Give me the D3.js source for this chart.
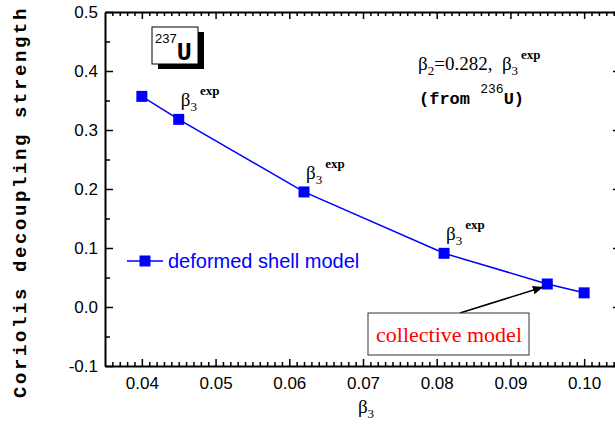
<!DOCTYPE html>
<html>
<head>
<meta charset="utf-8">
<script src="https://cdn.jsdelivr.net/npm/d3@7"></script>
<style>
  body { margin: 0; background: #fff; }
  svg { display: block; }
  text { white-space: pre; }
</style>
</head>
<body>
<div id="canvas"></div>
<script>
"use strict"

/* data */
let beta3 = [0.040, 0.045, 0.062, 0.081, 0.095, 0.100];
let strength = [0.357, 0.318, 0.195, 0.091, 0.039, 0.024];
let xTicks = [0.04, 0.05, 0.06, 0.07, 0.08, 0.09, 0.10];
let yTicks = [-0.1, 0.0, 0.1, 0.2, 0.3, 0.4, 0.5];
let expLabelIdx = [1, 2, 3];   /* points that carry a beta3^exp label */
let arrowIdx = 4;              /* point the "collective model" arrow goes to */

let svgWidth = 615;
let svgHeight = 430;
let plotLeft = 105, plotRight = 621, plotTop = 12, plotBottom = 366;

let svg = d3.select("#canvas")
    .append("svg")
    .attr("width", svgWidth)
    .attr("height", svgHeight);

let xScale = d3.scaleLinear()
    .domain([0.035, 0.105])
    .range([plotLeft, plotRight]);

let yScale = d3.scaleLinear()
    .domain([-0.1, 0.5])
    .range([plotBottom, plotTop]);

let data = beta3.map(function (b, i) {
    return {x: b, y: strength[i]};
});

/* minor tick values */
let xMinor = d3.range(36, 105).filter(d => d % 10 !== 0).map(d => d / 1000);
let yMinor = [-0.05, 0.05, 0.15, 0.25, 0.35, 0.45];

function styleAxis(g) {
    g.select(".domain").attr("stroke-width", 2);
    g.selectAll(".tick line").attr("stroke-width", 1.5);
    g.selectAll("text")
        .attr("font-family", "Liberation Sans, Arial, sans-serif")
        .attr("font-size", 17)
        .attr("fill", "#000");
}

function minorAxis(axis, tf) {
    svg.append("g")
        .attr("transform", tf)
        .call(axis.tickFormat("").tickSizeOuter(0))
        .call(g => g.select(".domain").remove())
        .call(g => g.selectAll(".tick line").attr("stroke-width", 1.5));
}

/* bottom axis */
minorAxis(d3.axisBottom(xScale).tickValues(xMinor).tickSize(-4), "translate(0," + plotBottom + ")");
svg.append("g")
    .attr("transform", "translate(0," + plotBottom + ")")
    .call(d3.axisBottom(xScale).tickValues(xTicks).tickSize(-7).tickSizeOuter(0)
        .tickPadding(11).tickFormat(d3.format(".2f")))
    .call(styleAxis);

/* top axis */
minorAxis(d3.axisTop(xScale).tickValues(xMinor).tickSize(-4), "translate(0," + plotTop + ")");
svg.append("g")
    .attr("transform", "translate(0," + plotTop + ")")
    .call(d3.axisTop(xScale).tickValues(xTicks).tickSize(-7).tickSizeOuter(0).tickFormat(""))
    .call(styleAxis);

/* left axis (plain hyphen for the minus sign, as in the original) */
minorAxis(d3.axisLeft(yScale).tickValues(yMinor).tickSize(-5), "translate(" + plotLeft + ",0)");
svg.append("g")
    .attr("transform", "translate(" + plotLeft + ",0)")
    .call(d3.axisLeft(yScale).tickValues(yTicks).tickSize(-8).tickSizeOuter(0)
        .tickPadding(7).tickFormat(d => d.toFixed(1)))
    .call(styleAxis);

/* right axis */
minorAxis(d3.axisRight(yScale).tickValues(yMinor).tickSize(-5), "translate(" + plotRight + ",0)");
svg.append("g")
    .attr("transform", "translate(" + plotRight + ",0)")
    .call(d3.axisRight(yScale).tickValues(yTicks).tickSize(-8).tickSizeOuter(0).tickFormat(""))
    .call(styleAxis);

/* axis titles */
svg.append("text")
    .attr("transform", "translate(26," + ((plotTop + plotBottom) / 2 + 13) + ") rotate(-90)")
    .attr("text-anchor", "middle")
    .attr("font-family", "Liberation Mono, Courier New, monospace")
    .attr("font-weight", "bold")
    .attr("font-size", 19)
    .attr("letter-spacing", 2.6)
    .text("Coriolis decoupling strength");

let xTitle = svg.append("text")
    .attr("x", (plotLeft + plotRight) / 2 + 3)
    .attr("y", 413)
    .attr("text-anchor", "middle")
    .attr("font-family", "Liberation Serif, Times New Roman, serif")
    .attr("font-size", 19);
xTitle.append("tspan").text("β");
xTitle.append("tspan").attr("font-size", 13).attr("dy", 5).text("3");

/* data line and markers */
let line = d3.line()
    .x(d => xScale(d.x))
    .y(d => yScale(d.y));

svg.append("path")
    .datum(data)
    .attr("d", line)
    .attr("fill", "none")
    .attr("stroke", "#0000ff")
    .attr("stroke-width", 1.5);

svg.selectAll("rect.pt")
    .data(data)
    .join("rect")
    .attr("class", "pt")
    .attr("x", d => xScale(d.x) - 5.5)
    .attr("y", d => yScale(d.y) - 5.5)
    .attr("width", 11)
    .attr("height", 11)
    .attr("fill", "#0000ff");

/* beta3^exp labels above points */
function betaExp(x, y) {
    let t = svg.append("text")
        .attr("x", x)
        .attr("y", y)
        .attr("font-family", "Liberation Serif, Times New Roman, serif")
        .attr("font-size", 19);
    t.append("tspan").text("β");
    t.append("tspan").attr("font-size", 13).attr("dy", 5).text("3");
    t.append("tspan").attr("font-size", 13).attr("font-weight", "bold")
        .attr("dy", -16).attr("dx", 3).text("exp");
}
expLabelIdx.forEach(function (i) {
    betaExp(xScale(data[i].x) + 2, yScale(data[i].y) - 13);
});

/* 237U box with shadow */
svg.append("rect")
    .attr("x", 158).attr("y", 32).attr("width", 46).attr("height", 37)
    .attr("fill", "#000");
svg.append("rect")
    .attr("x", 152).attr("y", 27).attr("width", 46).attr("height", 37)
    .attr("fill", "#fff").attr("stroke", "#000").attr("stroke-width", 1);
let uText = svg.append("text")
    .attr("x", 155).attr("y", 60)
    .attr("font-family", "Liberation Sans, Arial, sans-serif");
uText.append("tspan").attr("font-size", 13).attr("dy", -17).text("237");
uText.append("tspan").attr("font-size", 25).attr("font-weight", "bold")
    .attr("font-family", "Liberation Mono, Courier New, monospace")
    .attr("dy", 17).text("U");

/* beta2 text */
let b2 = svg.append("text")
    .attr("x", 418).attr("y", 70)
    .attr("font-family", "Liberation Serif, Times New Roman, serif")
    .attr("font-size", 19);
b2.append("tspan").text("β");
b2.append("tspan").attr("font-size", 13).attr("dy", 5).text("2");
b2.append("tspan").attr("dy", -5).text("=0.282,  β");
b2.append("tspan").attr("font-size", 13).attr("dy", 5).text("3");
b2.append("tspan").attr("font-size", 13).attr("font-weight", "bold")
    .attr("dy", -16).attr("dx", 3).text("exp");

let from = svg.append("text")
    .attr("x", 419).attr("y", 104)
    .attr("font-family", "Liberation Mono, Courier New, monospace")
    .attr("font-weight", "bold")
    .attr("font-size", 17);
from.append("tspan").text("(from ");
from.append("tspan").attr("font-size", 13).attr("font-weight", "normal").attr("dy", -11).text("236");
from.append("tspan").attr("dy", 11).text("U)");

/* legend */
svg.append("line")
    .attr("x1", 127).attr("x2", 163).attr("y1", 261).attr("y2", 261)
    .attr("stroke", "#0000ff").attr("stroke-width", 1.5);
svg.append("rect")
    .attr("x", 139.5).attr("y", 255.5).attr("width", 11).attr("height", 11)
    .attr("fill", "#0000ff");
svg.append("text")
    .attr("x", 168).attr("y", 268)
    .attr("font-family", "Liberation Sans, Arial, sans-serif")
    .attr("font-size", 20)
    .attr("fill", "#0000ff")
    .text("deformed shell model");

/* collective model box and arrow */
svg.append("defs").append("marker")
    .attr("id", "arrow")
    .attr("viewBox", "0 0 10 10")
    .attr("refX", 10).attr("refY", 5)
    .attr("markerWidth", 7).attr("markerHeight", 7)
    .attr("orient", "auto")
    .append("path")
    .attr("d", "M0,1 L10,5 L0,9 Z")
    .attr("fill", "#000");

svg.append("line")
    .attr("x1", 460).attr("y1", 313)
    .attr("x2", xScale(data[arrowIdx].x) - 4).attr("y2", yScale(data[arrowIdx].y) + 3)
    .attr("stroke", "#000").attr("stroke-width", 1.5)
    .attr("marker-end", "url(#arrow)");

svg.append("rect")
    .attr("x", 368).attr("y", 313).attr("width", 161).attr("height", 42)
    .attr("fill", "#fff").attr("stroke", "#333").attr("stroke-width", 1);
svg.append("text")
    .attr("x", 449).attr("y", 342)
    .attr("text-anchor", "middle")
    .attr("font-family", "Liberation Serif, Times New Roman, serif")
    .attr("font-size", 22)
    .attr("fill", "#ff0000")
    .text("collective model");
</script>
</body>
</html>
